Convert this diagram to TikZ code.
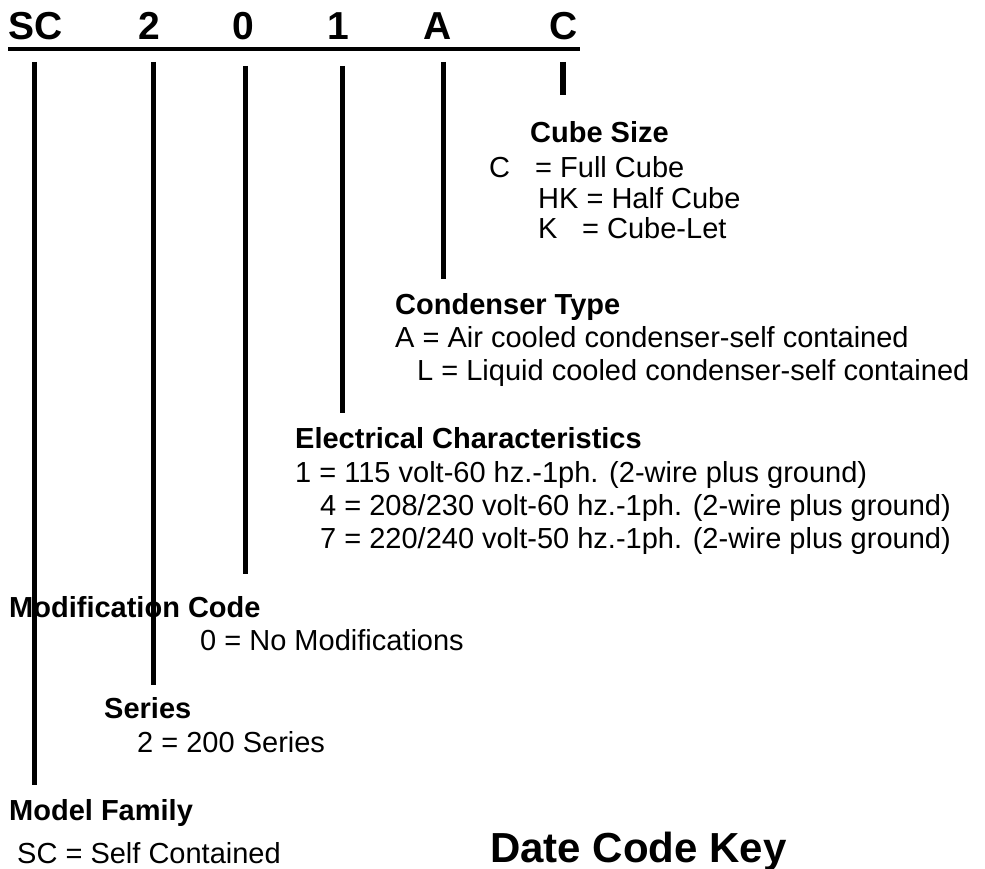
\documentclass[tikz,border=0pt]{standalone}
\usepackage{fontspec}
\setmainfont{Liberation Sans}
\begin{document}
\begin{tikzpicture}[x=1pt,y=-1pt,
  txt/.style={anchor=base west,inner sep=0pt,font=\fontsize{29}{33}\selectfont},
  head/.style={anchor=base west,inner sep=0pt,font=\fontsize{29}{33}\selectfont\bfseries},
  code/.style={anchor=base,inner sep=0pt,font=\fontsize{39}{42}\selectfont\bfseries},
  bar/.style={line width=5pt},
  rule/.style={line width=4pt}]
\useasboundingbox (0,0) rectangle (985,869);
% header
\node[code,anchor=base west] (hSC) at (8,40) {SC};
\node[code] (h2) at (149,40) {2};
\node[code] (h0) at (243,40) {0};
\node[code] (h1) at (338,40) {1};
\node[code] (hA) at (438,40) {A};
\node[code] (hC) at (564,40) {C};
\coordinate (ulL) at (8,49);
\coordinate (ulR) at (580,49);
\draw[rule] (ulL) -- (ulR);
% line end points
\coordinate (sct) at (34,62);  \coordinate (scb) at (34,785);
\coordinate (s2t) at (153,62); \coordinate (s2b) at (153,685);
\coordinate (s0t) at (245,66); \coordinate (s0b) at (245,574);
\coordinate (s1t) at (342,66); \coordinate (s1b) at (342,413);
\coordinate (sAt) at (443,62); \coordinate (sAb) at (443,279);
\coordinate (sCt) at (563,62); \coordinate (sCb) at (563,95);
\draw[bar] (sct) -- (scb);
\draw[bar] (s2t) -- (s2b);
\draw[bar] (s0t) -- (s0b);
\draw[bar] (s1t) -- (s1b);
\draw[bar] (sAt) -- (sAb);
\draw[bar,line width=6pt] (sCt) -- (sCb);
% cube size
\node[head] (cube) at (530,143) {Cube Size};
\node[txt] (cubeC1) at (489,178) {C};
\node[txt] (cubeC2) at (535,178) {= Full Cube};
\node[txt] (cubeHK) at (538,208) {HK = Half Cube};
\node[txt] (cubeK1) at (538,238) {K};
\node[txt] (cubeK2) at (582,238) {= Cube-Let};
% condenser
\node[head] (cond) at (395,314) {Condenser Type};
\node[txt] (condA) at (395,347) {A = Air cooled condenser-self contained};
\node[txt] (condL) at (417,380) {L = Liquid cooled condenser-self contained};
% electrical
\node[head] (elec) at (295,448) {Electrical Characteristics};
\node[txt] (elec1) at (295,482) {1 = 115 volt-60 hz.-1ph. (2-wire plus ground)};
\node[txt] (elec4) at (320,515) {4 = 208/230 volt-60 hz.-1ph. (2-wire plus ground)};
\node[txt] (elec7) at (320,548) {7 = 220/240 volt-50 hz.-1ph. (2-wire plus ground)};
% modification
\node[head] (mod) at (9,617) {Modification Code};
\node[txt] (mod0) at (200,650) {0 = No Modifications};
% series
\node[head] (ser) at (104,718) {Series};
\node[txt] (ser2) at (137,752) {2 = 200 Series};
% model family
\node[head] (fam) at (9,820) {Model Family};
\node[txt] (famSC) at (17,863) {SC = Self Contained};
% date code key
\node[anchor=base west,inner sep=0pt,font=\fontsize{42}{46}\selectfont\bfseries] (date) at (490,862) {Date Code Key};
\end{tikzpicture}
\end{document}
